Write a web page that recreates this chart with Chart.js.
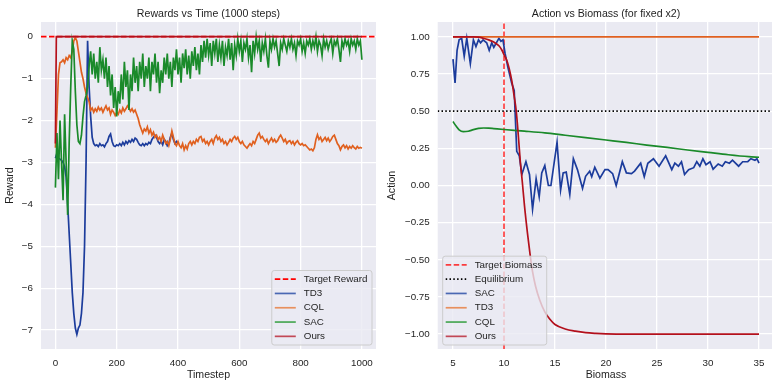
<!DOCTYPE html>
<html>
<head>
<meta charset="utf-8">
<script src="https://cdn.jsdelivr.net/npm/chart.js@4.4.1/dist/chart.umd.min.js"></script>
<style>
  html, body { margin: 0; padding: 0; background: #fff; overflow: hidden; }
  #rewards { position: absolute; left: 0; top: 0; }
  #actions { position: absolute; left: 386px; top: 0; }
</style>
</head>
<body>
<canvas id="rewards" width="386" height="381"></canvas>
<canvas id="actions" width="390" height="381"></canvas>
<script>
// ---- left panel: reward per timestep ----
const timeSteps = Array.from({ length: 201 }, (_, i) => i * 5);
const rewardTicks = [0, -1, -2, -3, -4, -5, -6, -7];
const timeTicks = [0, 200, 400, 600, 800, 1000];
const targetReward = 0;

const td3Reward = [-2.9, -2.78, -2.9, -2.92, -2.95, -3.0, -3.1, -3.35, -4.0, -4.7, -5.4, -6.1, -6.6, -6.95, -7.1, -6.95,
  -6.88, -6.6, -6.1, -5.0, -3.0, -0.1, -1.2, -1.9, -2.4, -2.55, -2.6, -2.58, -2.62, -2.55, -2.6, -2.58, -2.63, -2.55,
  -2.5, -2.38, -2.32, -2.5, -2.6, -2.62, -2.58, -2.6, -2.55, -2.6, -2.52, -2.58, -2.5, -2.55, -2.48, -2.52, -2.45, -2.5,
  -2.42, -2.45, -2.52, -2.58, -2.6, -2.55, -2.6, -2.55, -2.58, -2.52, -2.55, -2.45, -2.4, -2.35, -2.4, -2.5, -2.55, -2.5,
  -2.58, -2.45, -2.5, -2.6, -2.55, -2.4, -2.3, -2.45, -2.55, -2.5, -2.55];

const cqlReward = [-2.65, -1.8, -0.9, -0.62, -0.6, -0.55, -0.62, -0.5, -0.55, -0.45, -0.5, -0.35, -0.1, -0.02, -0.1, -0.35,
  -0.6, -0.85, -1.0, -1.2, -1.35, -1.45, -1.55, -1.75, -1.7, -1.8, -1.72, -1.78, -1.68, -1.75, -1.7, -1.8, -1.72, -1.65,
  -1.75, -1.7, -1.85, -1.75, -1.8, -1.88, -1.8, -1.85, -1.75, -1.82, -1.7, -1.78, -1.72, -1.65, -1.7, -1.78, -1.72, -1.8,
  -1.75, -1.85, -1.95, -2.1, -2.2, -2.3, -2.2, -2.25, -2.15, -2.3, -2.22, -2.35, -2.28, -2.4, -2.35, -2.45, -2.4, -2.5,
  -2.35, -2.45, -2.55, -2.5, -2.6, -2.45, -2.25, -2.4, -2.55, -2.6, -2.5,
  -2.6, -2.65, -2.55, -2.7, -2.6, -2.68, -2.55, -2.5, -2.58, -2.5, -2.55, -2.45, -2.5, -2.4, -2.38, -2.5, -2.45, -2.55,
  -2.5, -2.58, -2.5, -2.45, -2.55, -2.42, -2.36, -2.45, -2.4, -2.5, -2.45, -2.55, -2.5, -2.58, -2.52, -2.45, -2.5, -2.42,
  -2.38, -2.45, -2.4, -2.5, -2.55, -2.5, -2.58, -2.62, -2.66, -2.6, -2.55, -2.6, -2.5, -2.55, -2.45, -2.35, -2.3, -2.42,
  -2.38, -2.45, -2.5, -2.45, -2.55, -2.48, -2.42, -2.5, -2.45, -2.52, -2.48, -2.4, -2.35, -2.42, -2.5, -2.45, -2.55, -2.5,
  -2.48, -2.55, -2.5, -2.58, -2.52, -2.48, -2.55, -2.58, -2.55, -2.6, -2.58, -2.62, -2.66, -2.7, -2.68, -2.72, -2.65,
  -2.45, -2.34, -2.45, -2.4, -2.5, -2.45, -2.4, -2.48, -2.42, -2.5, -2.45, -2.38, -2.35, -2.45, -2.55, -2.6, -2.7, -2.62,
  -2.58, -2.65, -2.6, -2.68, -2.62, -2.66, -2.6, -2.65, -2.68, -2.62, -2.66, -2.64, -2.66];

const sacReward = [-3.6, -2.3, -3.4, -2.0, -3.0, -3.9, -1.85, -3.0, -4.25, -2.5, -1.2, -0.1, -0.3, -1.3, -2.1, -2.5,
  -2.55, -2.35, -1.9, -1.55, -1.4, -1.2, -0.7, -0.35, -0.9, -0.4, -1.0, -0.6, -1.1, -0.25, -0.8, -0.55, -1.0, -0.5, -1.2,
  -0.7, -1.4, -0.9, -1.7, -1.2, -1.9, -1.3, -1.6, -0.9, -1.5, -0.6, -1.2, -0.8, -1.75, -0.9, -1.3, -0.5, -1.1, -0.7, -1.3,
  -0.6, -1.0, -0.4, -1.2, -0.7, -1.0, -0.5, -1.3, -0.6, -0.9, -0.4, -1.1, -0.6, -1.35, -0.8, -1.1, -0.5, -0.9, -0.4, -1.0,
  -0.6, -1.2, -0.5, -0.8, -0.3, -0.9, -0.5, -1.1, -0.4, -0.75, -0.3, -0.9, -0.45, -1.0, -0.35, -0.7, -0.25, -0.8, -0.4,
  -0.9, -0.2, -0.6, -0.1, -0.5, -0.05, -0.45, -0.15, -0.7, -0.1, -0.4, -0.05, -0.6, -0.2, -0.5, -0.1, -0.7, -0.25, -0.45,
  -0.05, -0.55, -0.15, -0.8, -0.2, -0.45, -0.05, -0.35, -0.1, -0.6, -0.15, -0.3, -0.05, -0.5, -0.2, -0.85, -0.1, -0.4,
  0.0, -0.3, -0.1, -0.6, -0.15, -0.35, -0.05, -0.45, -0.74, -0.1, -0.3, -0.05, -0.25, -0.1, -0.4, -0.7, -0.15, -0.3,
  -0.05, -0.2, -0.35, -0.1, -0.25, -0.05, -0.3, -0.15, -0.45, -0.1, -0.2, -0.05, -0.35, -0.15, -0.4, -0.1, -0.2, -0.05,
  -0.3, -0.1, -0.25, 0.0, -0.35, -0.1, -0.2, -0.45, -0.05, -0.25, -0.1, -0.3, -0.15, -0.05, -0.4, -0.1, -0.2, -0.05, -0.3,
  -0.6, -0.1, -0.25, -0.05, -0.2, -0.1, -0.35, -0.05, -0.2, -0.1, -0.3, -0.05, -0.2, -0.1, -0.55];

const oursSteps = [0, 3, 1000];
const oursReward = [-2.55, 0, 0];

// ---- right panel: action vs biomass ----
const actionTicks = [1, 0.75, 0.5, 0.25, 0, -0.25, -0.5, -0.75, -1];
const biomassTicks = [5, 10, 15, 20, 25, 30, 35];
const targetBiomass = 10;
const equilibrium = 0.5;

const sacBiomass = [5.0, 5.2, 5.4, 5.6, 5.85, 6.1, 6.35, 6.7, 7.0, 7.25, 7.5, 7.7, 7.95, 8.3, 8.55, 8.8, 9.0, 9.25, 9.5,
  9.7, 9.9, 10.1, 10.4, 10.75, 11.0, 11.25, 11.5, 11.75, 12.15, 12.5, 12.8, 13.15, 13.45, 13.7, 14.0, 14.35, 14.6, 15.2,
  15.55, 15.8, 16.1, 16.45, 16.8, 17.2, 17.7, 18.0, 18.4, 18.6, 18.9, 19.4, 19.9, 20.2, 20.65, 21.0, 21.6, 22.0, 22.5,
  22.8, 23.4, 23.75, 24.1, 24.65, 25.2, 25.85, 26.45, 26.75, 27.1, 27.4, 27.7, 28.1, 28.6, 28.9, 29.2, 29.5, 29.8, 30.2,
  30.5, 31.0, 31.4, 31.7, 32.1, 32.4, 33.0, 33.4, 33.9, 34.2, 34.6, 34.8, 35.0];
const sacAction = [0.85, 0.69, 0.91, 0.98, 0.99, 0.87, 0.99, 0.82, 0.98, 0.935, 0.98, 0.96, 0.98, 0.96, 0.91, 0.96, 0.93,
  0.96, 0.99, 0.97, 0.98, 0.89, 0.79, 0.69, 0.64, 0.23, 0.2, 0.074, 0.16, 0.074, -0.16, 0.045, -0.076, 0.085, 0.134, 0.0,
  0.0, 0.29, -0.03, 0.085, 0.09, -0.06, 0.18, 0.107, -0.02, 0.062, 0.096, 0.06, 0.123, 0.05, 0.107, 0.107, 0.08, 0.0,
  0.16, 0.085, 0.08, 0.097, 0.15, 0.06, 0.15, 0.18, 0.13, 0.2, 0.107, 0.15, 0.13, 0.16, 0.074, 0.107, 0.12, 0.16, 0.13,
  0.18, 0.14, 0.16, 0.11, 0.145, 0.13, 0.16, 0.15, 0.17, 0.13, 0.16, 0.16, 0.18, 0.17, 0.18, 0.15];

const td3Biomass = [5, 35];
const td3Action = [1, 1];

const cqlBiomass = [5, 5.3, 5.6, 6, 6.5, 7, 7.5, 8, 8.5, 9, 10, 12, 14, 16, 18, 20, 22, 24, 26, 28, 30, 32, 34, 35];
const cqlAction = [0.43, 0.40, 0.375, 0.362, 0.365, 0.376, 0.384, 0.387, 0.386, 0.383, 0.377, 0.366, 0.354, 0.338, 0.322,
  0.306, 0.29, 0.272, 0.256, 0.239, 0.223, 0.207, 0.194, 0.19];

const oursBiomass = [5, 6, 7, 7.5, 8, 8.5, 9, 9.5, 9.8, 10, 10.25, 10.5, 10.75, 11, 11.2, 11.4, 11.6, 11.8, 12, 12.3, 12.55,
  12.8, 13.1, 13.5, 14, 14.5, 15, 16, 17, 18, 19, 20, 22, 35];
const oursAction = [1.0, 1.0, 1.0, 0.998, 0.99, 0.98, 0.965, 0.94, 0.91, 0.88, 0.846, 0.79, 0.71, 0.6, 0.5, 0.34, 0.16,
  0.02, -0.13, -0.32, -0.46, -0.58, -0.68, -0.77, -0.85, -0.9, -0.935, -0.965, -0.98, -0.99, -0.995, -0.998, -1.0, -1.0];

// colours
const blue = '#1c3c9c', orange = '#e0601f', green = '#1a8a2a', red = '#b3101c';
const textColor = '#1f1f1f';
const fontFamily = "'Liberation Sans', Arial, sans-serif";

Chart.defaults.font.family = fontFamily;
Chart.defaults.color = textColor;

function pairs(xs, ys) {
  return ys.map((y, i) => ({ x: xs[i], y: y }));
}

function minusSign(text) {
  return String(text).replace('-', '\u2212');
}

const panelBackground = {
  id: 'panelBackground',
  beforeDraw(chart) {
    const a = chart.chartArea;
    chart.ctx.save();
    chart.ctx.fillStyle = '#eaeaf2';
    chart.ctx.fillRect(a.left, a.top, a.right - a.left, a.bottom - a.top);
    chart.ctx.restore();
  }
};

// matplotlib-like legend box drawn on top of the lines
const legendBox = {
  id: 'legendBox',
  afterDatasetsDraw(chart, args, opts) {
    const ctx = chart.ctx, area = chart.chartArea;
    const sets = chart.data.datasets;
    ctx.save();
    ctx.font = '9.8px ' + fontFamily;
    const textW = Math.max(...sets.map(d => ctx.measureText(d.label).width));
    const rowH = 14.3;
    const w = 32 + textW + 4.5, h = sets.length * rowH + 3;
    const x = opts.corner === 'right' ? area.right - 4 - w : area.left + 5;
    const y = area.bottom - 4 - h;
    ctx.beginPath();
    ctx.roundRect(x, y, w, h, 2.5);
    ctx.fillStyle = 'rgba(234,234,242,0.8)';
    ctx.fill();
    ctx.strokeStyle = '#cccccc';
    ctx.lineWidth = 1;
    ctx.stroke();
    sets.forEach((d, i) => {
      const cy = y + 1.5 + rowH * (i + 0.5);
      ctx.beginPath();
      ctx.setLineDash(d.borderDash || []);
      ctx.strokeStyle = d.legendColor || d.borderColor;
      ctx.lineWidth = 1.7;
      ctx.moveTo(x + 3, cy);
      ctx.lineTo(x + 24, cy);
      ctx.stroke();
      ctx.setLineDash([]);
      ctx.fillStyle = textColor;
      ctx.textBaseline = 'middle';
      ctx.textAlign = 'left';
      ctx.fillText(d.label, x + 32, cy);
    });
    ctx.restore();
  }
};

function axis(min, max, ticks, title, fit, format, titlePad) {
  return {
    type: 'linear',
    min: min,
    max: max,
    afterBuildTicks: s => { s.ticks = ticks.map(v => ({ value: v })); },
    afterFit: fit,
    ticks: { callback: format, font: { size: 9.8 }, color: textColor, padding: 8 },
    grid: { color: '#ffffff', lineWidth: 1.3, drawTicks: false },
    border: { display: false },
    title: { display: true, text: title, font: { size: 10.6 }, color: textColor, padding: titlePad }
  };
}

function baseOptions(titleText, padRight, scales, corner) {
  return {
    responsive: false,
    animation: false,
    devicePixelRatio: 1,
    layout: { padding: { left: 0, right: padRight, top: 0, bottom: 0 } },
    plugins: {
      legend: { display: false },
      tooltip: { enabled: false },
      title: {
        display: true, text: titleText, fullSize: false, color: textColor,
        font: { size: 10.6, weight: 'normal' }, padding: { top: 8, bottom: 1.3 }
      },
      legendBox: { corner: corner }
    },
    elements: { point: { radius: 0 }, line: { borderWidth: 1.7 } },
    scales: scales
  };
}

new Chart(document.getElementById('rewards'), {
  type: 'line',
  data: {
    datasets: [
      { label: 'Target Reward', data: pairs([-47, 1046], [targetReward, targetReward]), borderColor: '#ff0000',
        borderDash: [5.5, 2.5], order: 5 },
      { label: 'TD3', data: pairs(timeSteps, td3Reward), borderColor: blue, legendColor: '#4a68b3', order: 4 },
      { label: 'CQL', data: pairs(timeSteps, cqlReward), borderColor: orange, legendColor: '#e8905e', order: 3 },
      { label: 'SAC', data: pairs(timeSteps, sacReward), borderColor: green, legendColor: '#4aa855', order: 2 },
      { label: 'Ours', data: pairs(oursSteps, oursReward), borderColor: red, legendColor: '#c24856', order: 1 }
    ]
  },
  options: baseOptions('Rewards vs Time (1000 steps)', 10, {
    x: axis(-47, 1046, timeTicks, 'Timestep', s => { s.height = 32; }, v => minusSign(v), { top: 0, bottom: 0 }),
    y: axis(-7.45, 0.35, rewardTicks, 'Reward', s => { s.width = 41; }, v => minusSign(v), { top: 3.7, bottom: 0 })
  }, 'right'),
  plugins: [panelBackground, legendBox]
});

new Chart(document.getElementById('actions'), {
  type: 'line',
  data: {
    datasets: [
      { label: 'Target Biomass', data: pairs([targetBiomass, targetBiomass], [-1.1, 1.1]),
        borderColor: 'rgba(255,0,0,0.75)', borderDash: [5.5, 2.5], order: 6 },
      { label: 'Equilibrium', data: pairs([3.5, 36.5], [equilibrium, equilibrium]), borderColor: '#000000',
        borderDash: [1.5, 2.3], order: 5 },
      { label: 'SAC', data: pairs(sacBiomass, sacAction), borderColor: blue, legendColor: '#4a68b3', order: 4 },
      { label: 'TD3', data: pairs(td3Biomass, td3Action), borderColor: orange, legendColor: '#e8905e', order: 3 },
      { label: 'CQL', data: pairs(cqlBiomass, cqlAction), borderColor: green, legendColor: '#4aa855', order: 2,
        cubicInterpolationMode: 'monotone' },
      { label: 'Ours', data: pairs(oursBiomass, oursAction), borderColor: red, legendColor: '#c24856', order: 1,
        cubicInterpolationMode: 'monotone' }
    ]
  },
  options: baseOptions('Action vs Biomass (for fixed x2)', 1.7, {
    x: axis(3.5, 36.5, biomassTicks, 'Biomass', s => { s.height = 32; }, v => minusSign(v), { top: 0, bottom: 0 }),
    y: axis(-1.1, 1.1, actionTicks, 'Action', s => { s.width = 51.7; }, v => minusSign(v.toFixed(2)), { top: 0, bottom: 0 })
  }, 'left'),
  plugins: [panelBackground, legendBox]
});
</script>
</body>
</html>
